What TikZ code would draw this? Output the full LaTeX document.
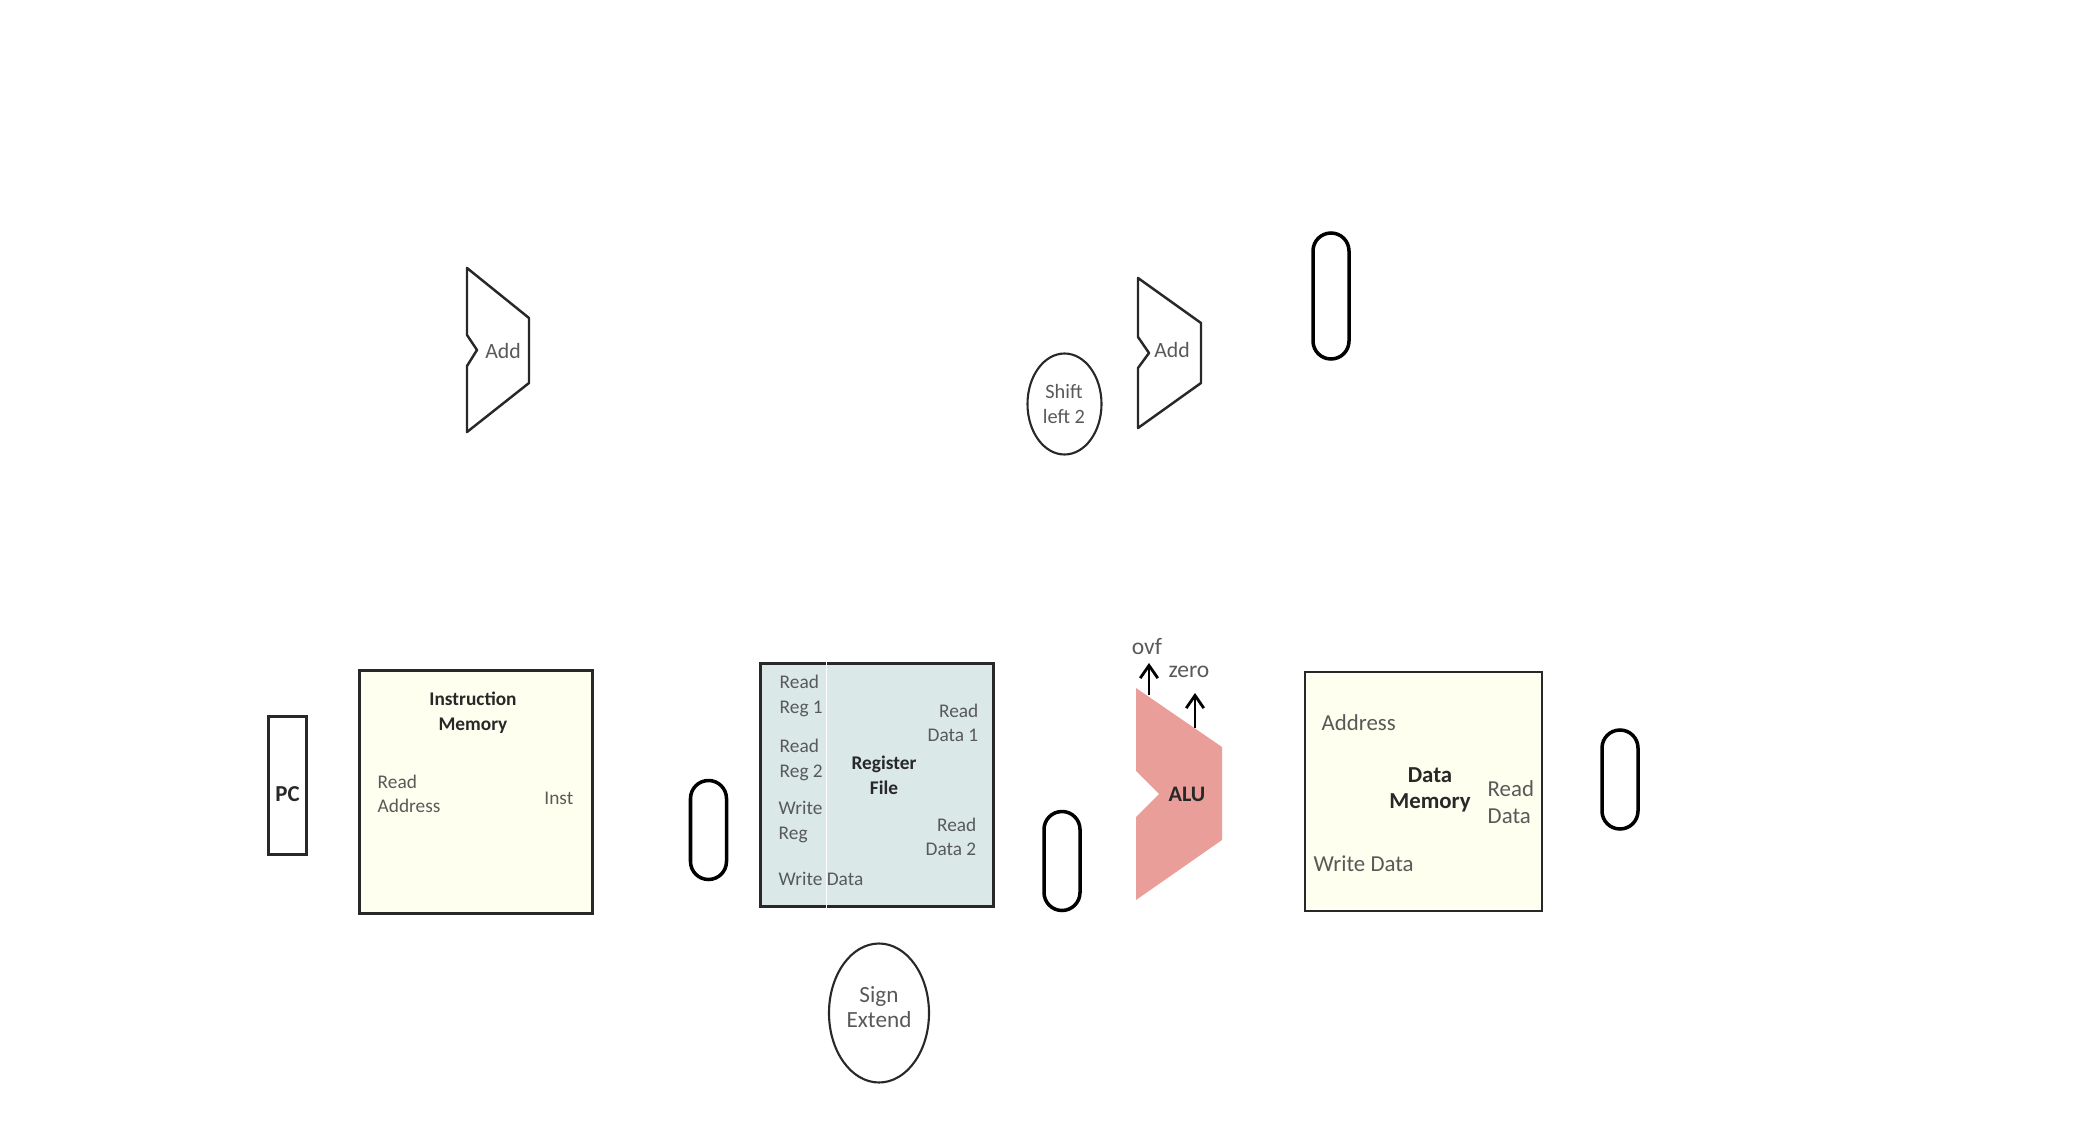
\documentclass[tikz,border=0pt]{standalone}
\usepackage{fontspec}
\setmainfont{Carlito}
\usepackage{xcolor}
\definecolor{memfill}{RGB}{255,255,240}
\definecolor{regfill}{RGB}{218,232,232}
\definecolor{alufill}{RGB}{233,158,154}
\definecolor{darkgray}{RGB}{89,89,89}
\definecolor{boxline}{RGB}{40,40,40}
\usetikzlibrary{shapes.geometric,arrows.meta,positioning}

\begin{document}
\begin{tikzpicture}[
  smallfont/.style={font=\fontsize{5.5}{6.9}\selectfont},
  bigfont/.style={font=\fontsize{6.5}{7.5}\selectfont},
  membox/.style={rectangle,draw=boxline,line width=0.7pt,fill=memfill,inner sep=0pt},
  regbox/.style={rectangle,draw=boxline,line width=1pt,fill=regfill,inner sep=0pt},
  pcbox/.style={rectangle,draw=boxline,line width=0.8pt,inner sep=0pt,minimum width=0.38cm,minimum height=1.38cm},
  latch/.style={rectangle,draw=black,line width=1pt,rounded corners=0.18cm,inner sep=0pt,minimum width=0.36cm},
  oval/.style={ellipse,draw=boxline,line width=0.6pt,inner sep=0pt},
  ovaltext/.style={font=\fontsize{6.6}{7.2}\selectfont,align=center,text=darkgray,inner sep=0pt},
  adder/.style={draw=boxline,line width=0.7pt,line join=round},
  addtext/.style={font=\fontsize{6.2}{7}\selectfont,text=darkgray,inner sep=0pt},
  title/.style={font=\fontsize{5.5}{7.0}\bfseries\selectfont,align=center,text=boxline},
  label/.style={smallfont,align=left,text=darkgray,inner sep=0pt},
  biglabel/.style={bigfont,align=left,text=darkgray,inner sep=0pt},
  flag/.style={-{Straight Barb[length=3.6pt,width=5pt]},black,line width=0.8pt},
]
\useasboundingbox (0,0) rectangle (20.95,-11.46);

% program counter and instruction memory
\node[pcbox] (pc) at (2.875,-7.855) {};
\node[title,font=\fontsize{6.5}{7}\bfseries\selectfont] (pctext) at (2.875,-7.94) {PC};
\node[membox,minimum width=2.33cm,minimum height=2.43cm] (imem) at (4.76,-7.92) {};
\node[title] (imemtext) at (4.73,-7.13) {Instruction\\Memory};
\node[label,anchor=west] (readaddr) at (3.77,-7.94) {Read\\Address};
\node[label,anchor=east] (inst) at (5.74,-7.98) {Inst};

% register file
\node[regbox,minimum width=2.33cm,minimum height=2.43cm] (regs) at (8.77,-7.85) {};
\draw[white,line width=0.2pt] (regs.north west) ++(0.68,0) coordinate (regsplit) -- (regsplit |- regs.south);
\node[title] (regstext) at (8.84,-7.75) {Register\\File};
\node[label,anchor=west] (readreg1) at (7.79,-6.96) {Read\\Reg 1};
\node[label,anchor=west] (readreg2) at (7.79,-7.60) {Read\\Reg 2};
\node[label,anchor=west] (writereg) at (7.78,-8.22) {Write\\Reg};
\node[label,anchor=west] (writedata) at (7.78,-8.79) {Write Data};
\node[label,anchor=east,align=right] (readdata1) at (9.79,-7.23) {Read\\Data 1};
\node[label,anchor=east,align=right] (readdata2) at (9.77,-8.37) {Read\\Data 2};

\node[oval,minimum width=1.0cm,minimum height=1.39cm] (signext) at (8.79,-10.13) {};
\node[ovaltext] (signtext) at (8.79,-10.07) {Sign\\Extend};
\node[oval,minimum width=0.74cm,minimum height=1.01cm] (shift) at (10.645,-4.04) {};
\node[ovaltext,font=\fontsize{5.8}{7}\selectfont] (shifttext) at (10.64,-4.04) {Shift\\left 2};

% adders
\draw[adder] (4.67,-2.68) -- (5.29,-3.18) -- (5.29,-3.83) -- (4.67,-4.32) -- (4.67,-3.66) -- (4.77,-3.50) -- (4.67,-3.35) -- cycle;
\node[addtext] (add1) at (5.03,-3.51) {Add};
\draw[adder] (11.38,-2.78) -- (12.01,-3.23) -- (12.01,-3.83) -- (11.38,-4.28) -- (11.38,-3.68) -- (11.49,-3.53) -- (11.38,-3.37) -- cycle;
\node[addtext] (add2) at (11.72,-3.50) {Add};

% alu
\fill[alufill] (11.36,-6.88) -- (12.22,-7.47) -- (12.22,-8.40) -- (11.36,-9.00) -- (11.36,-8.17) -- (11.59,-7.94) -- (11.36,-7.71) -- cycle;
\node[title,font=\fontsize{6.3}{7}\bfseries\selectfont] (alu) at (11.87,-7.94) {ALU};
\coordinate (ovfstart) at (11.49,-6.95);
\coordinate (zerostart) at (11.95,-7.28);
\coordinate[above=0.32cm of ovfstart] (ovfend);
\coordinate[above=0.35cm of zerostart] (zeroend);
\draw[flag] (ovfstart) -- (ovfend);
\draw[flag] (zerostart) -- (zeroend);
\node[label,font=\fontsize{6.7}{7}\selectfont] (ovf) at (11.47,-6.47) {ovf};
\node[label,font=\fontsize{6.7}{7}\selectfont] (zero) at (11.89,-6.72) {zero};

% data memory
\node[membox,minimum width=2.37cm,minimum height=2.39cm] (dmem) at (14.235,-7.915) {};
\node[title,font=\fontsize{6.5}{7.5}\bfseries\selectfont] (dmemtext) at (14.30,-7.90) {Data\\Memory};
\node[biglabel,anchor=west] (dmaddr) at (13.21,-7.23) {Address};
\node[biglabel,anchor=west] (dmread) at (14.87,-8.02) {Read\\Data};
\node[biglabel,anchor=west] (dmwrite) at (13.13,-8.64) {Write Data};

% latches
\node[latch,minimum height=0.99cm] (latcha) at (7.085,-8.30) {};
\node[latch,minimum height=0.99cm] (latchb) at (10.62,-8.61) {};
\node[latch,minimum height=0.99cm] (latchc) at (16.20,-7.795) {};
\node[latch,minimum height=1.26cm] (latchd) at (13.31,-2.96) {};
\end{tikzpicture}
\end{document}
